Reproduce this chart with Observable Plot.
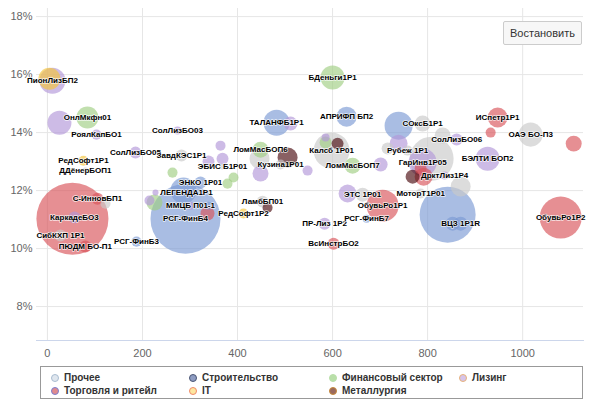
<!DOCTYPE html>
<html><head><meta charset="utf-8">
<script src="https://cdn.jsdelivr.net/npm/d3@7"></script>
<script src="https://cdn.jsdelivr.net/npm/@observablehq/plot@0.6"></script>
<style>
body{margin:0;background:#fff;font-family:"Liberation Sans",Arial,sans-serif;}
#wrap{position:relative;width:590px;height:405px;}
#btn{position:absolute;left:503px;top:21px;width:79px;height:24px;box-sizing:border-box;background:#f7f7f7;border:1px solid #cccccc;border-radius:2px;font-size:11px;color:#333;display:flex;align-items:center;justify-content:center;}
#legend{position:absolute;left:40px;top:366px;width:543px;height:33px;box-sizing:border-box;border:1px solid #999;font-size:10px;font-weight:bold;color:#333;}
.li{position:absolute;display:flex;align-items:center;white-space:nowrap;}
.mk{width:8px;height:8px;border-radius:50%;box-sizing:border-box;border:1px solid;margin-right:5px;}
</style></head>
<body><div id="wrap"><div id="chart"></div><div id="btn">Востановить</div><div id="legend"></div></div>
<script>
// Sector categories
const sectors = ["Прочее","Строительство","Финансовый сектор","Лизинг","Торговля и ритейл","IT","Металлургия"];
const sectorColors = ["#c9c9c9","#7b9ad4","#a0ce83","#b297d9","#d95359","#f5c53a","#4a0a10"];
const legendFill = ["#dfe6ee","#8e9cc2","#b9dfa9","#d6c4ea","#e08a8e","#fde7a0","#9a6a5e"];
const legendStroke = ["#a9bcd0","#4a5573","#b9dfa9","#e8b27a","#7a7fd0","#f08a6a","#c8893a"];

// Bond names ("" = unlabeled)
const names = ["ПионЛизБП2","","ОнлМкфн01","","РоялКапБО1","СолЛизБО03","СолЛизБО05","ЗавдКЭС1Р1","РедСофт1Р1","ДДёнерБОП1",
"","ЭНКО 1Р01","","ЛЕГЕНДА1Р1","","","","ММЦБ П01-1","РСГ-ФинБ4","",
"","КаркадеБО3","","С-ИнновБП1","","СибКХП 1Р1","ПЮДМ БО-П1","РСГ-ФинБ3","БДеньги1Р1","ТАЛАНФБ1Р1",
"","АПРИФП БП2","","СОксБ1Р1","Калсб 1Р01","","","","ЛомМасБОП6","",
"Кузина1Р01","","","","","","","ЭБИС Б1Р01","","",
"ЛамбБП01","","РедСофт1Р2","ПР-Лиз 1Р2","ВсИнстрБО2","ЛомМасБОП7","","","ЭТС 1Р01","ОбувьРо1Р1",
"РСГ-ФинБ7","МоторТ1Р01","","ВЦЗ 1Р1R","","ОбувьРо1Р2","ИСпетр1Р1","","ОАЭ БО-П3","",
"СолЛизБО06","","","Рубеж 1Р1","","","ГарИнв1Р05","","","",
"ДрктЛиз1Р4","","БЭЛТИ БОП2"];
// Sector index per bond
const sectorIdx = [3,5,2,3,3,3,3,0,5,0,
2,1,1,1,3,3,2,3,1,4,
1,3,4,4,0,0,4,1,2,1,
3,1,1,0,0,2,6,3,2,0,
0,6,3,3,3,3,3,0,2,2,
0,6,5,3,4,2,3,3,0,4,
1,0,1,1,1,4,4,4,0,4,
3,0,0,0,3,0,3,4,6,4,
3,0,3];
// Duration, days
const duration = [10.5,4.2,84.2,25.3,103.2,273.7,185.3,282.1,75.8,80,
263.2,322.1,286.3,292.6,227.4,214.7,225.3,301.1,290.5,336.8,
338.9,56.8,52.6,105.3,122.1,27.4,80,187.4,600,482.1,
511.6,629.5,738.9,789.5,597.9,585.3,610.5,585.3,448.4,446.3,
490.5,505.3,448.4,547.4,364.2,368.4,338.9,368.4,391.6,378.9,
452.6,463.2,412.6,583.2,602.1,642.1,701.1,631.6,663.2,705.3,
671.6,785.3,842.1,869.5,852.6,1080,947.4,932.6,1016.8,1107.4,
861.1,831.6,808.4,757.9,738.9,715.8,789.5,791.6,768.4,785.3,
835.8,869.5,926.3];
// Yield, %
const yieldPct = [15.79,15.86,14.52,14.34,13.93,14.07,13.31,13.21,13.03,12.69,
12.62,12.28,12.0,11.93,11.93,11.66,11.59,11.48,11.03,11.21,
11.48,11.07,11.03,11.72,11.55,10.45,10.07,10.24,15.9,14.34,
14.31,14.55,14.24,14.31,13.38,13.66,13.62,13.83,13.41,13.10,
12.9,13.14,12.59,12.69,13.55,13.10,13.0,12.83,12.45,12.24,
11.62,11.41,11.21,10.86,10.17,12.86,12.9,11.9,11.86,11.48,
11.03,11.9,11.17,10.86,10.86,11.07,14.52,14.0,13.93,13.62,
13.76,13.9,13.10,13.38,13.62,13.45,12.97,12.48,12.48,12.76,
12.52,12.14,13.10];
// Issue volume, bln rub
const volume = [3.49,2.5,2.5,2.98,0.52,0.33,0.74,0.74,0.52,0.19,
0.52,0.74,3.49,0.33,0.19,0.52,1.32,0.33,25.3,1.01,
0.33,0.74,26.8,0.74,0.52,0.74,0.74,0.52,2.98,3.49,
1.01,2.07,4.05,1.32,6.69,0.74,0.74,0.33,1.32,2.07,
0.52,2.07,1.32,0.52,0.52,0.74,0.74,0.19,0.52,0.52,
0.74,0.52,0.52,0.74,0.74,1.32,1.01,1.67,1.01,5.29,
0.33,0.52,16.2,1.01,1.01,9.11,2.07,0.52,2.98,1.32,
0.74,1.32,10,0.52,1.67,0.74,4.05,1.67,1.01,0.74,
0.33,2.07,2.98];
const xTicks = [0,200,400,600,800,1000];
const yTicks = [8,10,12,14,16,18];

const data = names.map((n,i)=>({name:n, sector:sectors[sectorIdx[i]], x:duration[i], y:yieldPct[i], v:volume[i]}));

const chart = Plot.plot({
  width:590, height:362,
  marginLeft:36, marginRight:7, marginTop:8, marginBottom:22,
  style:{fontFamily:"Liberation Sans, Arial, sans-serif", fontSize:"11px", color:"#666", background:"transparent"},
  x:{domain:[-23,1128], ticks:xTicks, tickSize:0, tickPadding:9, tickFormat:d=>String(d), label:null},
  y:{domain:[6.83,18.28], ticks:yTicks, tickSize:0, tickPadding:4, tickFormat:d=>d+"%", label:null},
  r:{type:"sqrt", domain:[0,10], range:[0,22]},
  color:{domain:sectors, range:sectorColors},
  marks:[
    Plot.gridX(xTicks,{stroke:"#e6e6e6", strokeOpacity:1}),
    Plot.gridY(yTicks,{stroke:"#e6e6e6", strokeOpacity:1}),
    Plot.frame({anchor:"bottom", stroke:"#ccd6eb"}),
    Plot.dot(data,{x:"x", y:"y", r:"v", fill:"sector", fillOpacity:0.65, stroke:null}),
    Plot.text(data.filter(d=>d.name),{x:"x", y:"y", text:"name", fontSize:8, fontWeight:"bold", fill:"#000", stroke:"white", strokeWidth:1.5, strokeOpacity:0.8})
  ]
});
document.getElementById("chart").appendChild(chart);

// Legend
const legend = document.getElementById("legend");
const colX = [10,148,288,418];
const rowY = [5,18];
const order = [[0,0,0],[1,0,1],[2,0,2],[3,0,3],[4,1,0],[5,1,1],[6,1,2]];
order.forEach(([si,row,col])=>{
  const d = document.createElement("div");
  d.className="li";
  d.style.left = colX[col]+"px"; d.style.top = rowY[row]+"px";
  const m = document.createElement("span"); m.className="mk";
  m.style.background = legendFill[si]; m.style.borderColor = legendStroke[si];
  const t = document.createElement("span"); t.textContent = sectors[si];
  d.appendChild(m); d.appendChild(t); legend.appendChild(d);
});
</script></body></html>
